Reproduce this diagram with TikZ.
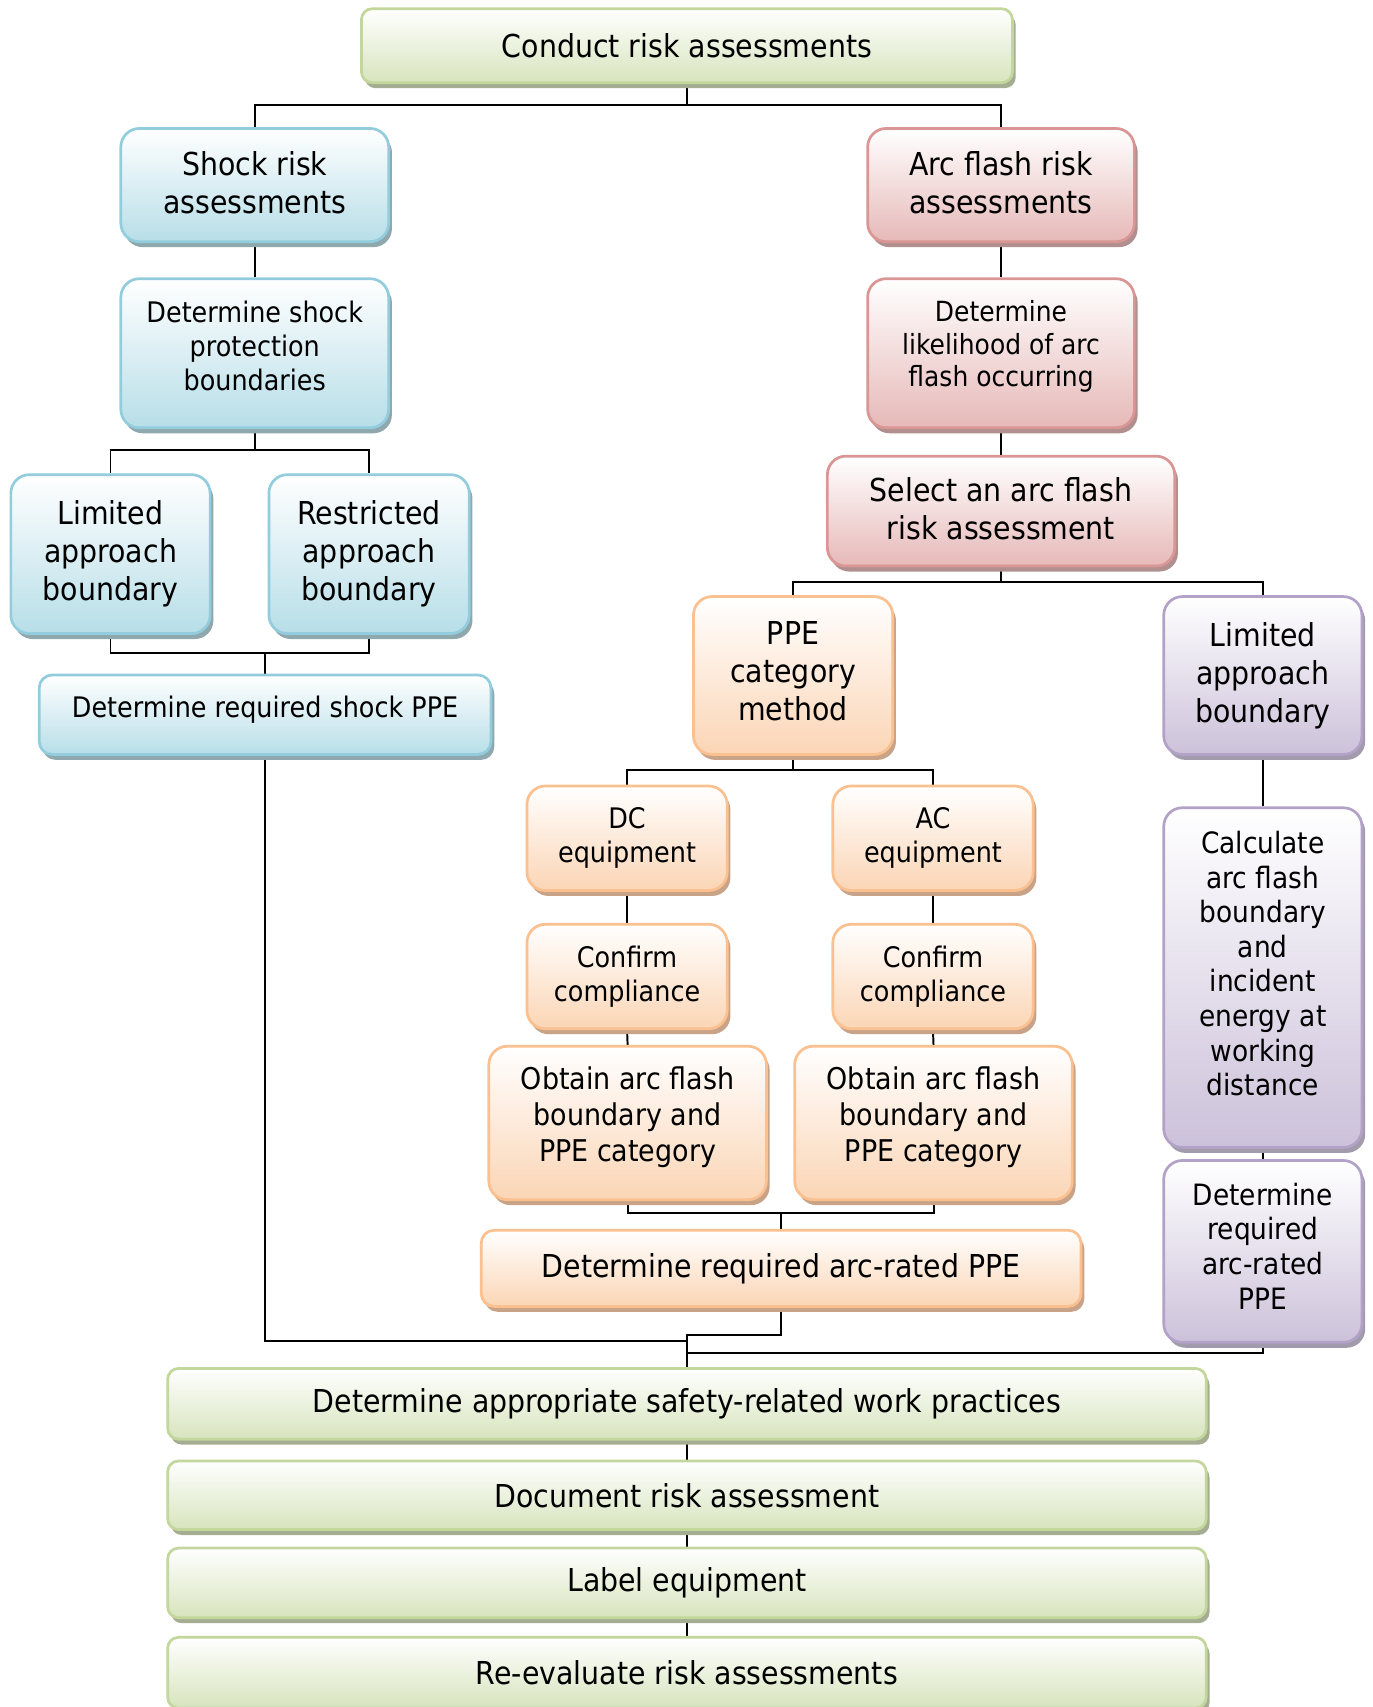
\documentclass[tikz,border=0pt]{standalone}
\usepackage{fontspec}
\setmainfont{DejaVu Sans}[FakeStretch=0.9]
\usetikzlibrary{shadows}
\pgfdeclarelayer{bg}
\pgfsetlayers{bg,main}
\definecolor{grD}{HTML}{C3D69B}\definecolor{grF}{HTML}{D7E4BD}\definecolor{grS}{HTML}{A4AD92}
\definecolor{blD}{HTML}{93CDDD}\definecolor{blF}{HTML}{B7DEE8}\definecolor{blS}{HTML}{8FA8AE}
\definecolor{rdD}{HTML}{D99694}\definecolor{rdF}{HTML}{E6B9B8}\definecolor{rdS}{HTML}{B08F8E}
\definecolor{orD}{HTML}{FAC08F}\definecolor{orF}{HTML}{FBD5B5}\definecolor{orS}{HTML}{C9A387}
\definecolor{puD}{HTML}{B3A2C7}\definecolor{puF}{HTML}{CCC1DA}\definecolor{puS}{HTML}{A19BAB}
\newcommand\mybox[7]{\node[#6, minimum width={#4-#2}, minimum height={#5-#3}] (#1) at ({(#2+#4)/2},{(#3+#5)/2}) {#7};}
\newcommand\liftup[1]{\\[\dimexpr#1pt-\baselineskip\relax]\mbox{}}
\tikzset{
  box/.style={line width=2.5pt, rounded corners=17pt, inner sep=0pt, align=center, text=black},
  mk/.style n args={3}{box, draw=#1, top color=white, bottom color=#2,
     drop shadow={shadow xshift=3pt, shadow yshift=-5pt, fill=#3, opacity=1}},
  gbox/.style={mk={grD}{grF}{grS}},
  bbox/.style={mk={blD}{blF}{blS}},
  rbox/.style={mk={rdD}{rdF}{rdS}},
  obox/.style={mk={orD}{orF}{orS}},
  pbox/.style={mk={puD}{puF}{puS}},
  fA/.style={font=\fontsize{29}{35}\selectfont},
  fB/.style={font=\fontsize{26}{31.5}\selectfont},
  fC/.style={font=\fontsize{25.5}{30}\selectfont},
  fO/.style={font=\fontsize{27.5}{33}\selectfont},
  fP/.style={font=\fontsize{27}{31.8}\selectfont},
  conn/.style={line width=1.8pt, black},
}
\begin{document}
\begin{tikzpicture}[x=1pt,y=-1pt]
\useasboundingbox (0,0) rectangle (1261,1568);
\mybox{top}{332}{8}{930}{76}{gbox,fA,rounded corners=10pt}{Conduct risk assessments}
\mybox{shock}{111}{118}{357}{222}{bbox,fA}{Shock risk\\assessments\liftup{5}}
\mybox{arc}{797}{118}{1042}{222}{rbox,fA}{Arc flash risk\\assessments\liftup{5}}
\mybox{sbound}{111}{256}{357}{393}{bbox,fB}{Determine shock\\protection\\boundaries\liftup{14}}
\mybox{likely}{797}{256}{1042}{393}{rbox,fC}{Determine\\likelihood of arc\\flash occurring\liftup{18}}
\mybox{select}{760}{419}{1079}{520}{rbox,fA}{Select an arc flash\\risk assessment\liftup{4}}
\mybox{lim}{10}{436}{193}{582}{bbox,fA}{Limited\\approach\\boundary}
\mybox{res}{247}{436}{431}{582}{bbox,fA}{Restricted\\approach\\boundary}
\mybox{sppe}{36}{620}{451}{693}{bbox,fB,rounded corners=12pt}{Determine required shock PPE\liftup{14}}
\mybox{ppecat}{637}{548}{820}{693}{obox,fA}{PPE\\category\\method\liftup{9}}
\mybox{plim}{1069}{548}{1251}{693}{pbox,fA}{Limited\\approach\\boundary}
\mybox{dc}{484}{722}{668}{818}{obox,fB}{DC\\equipment}
\mybox{ac}{765}{722}{949}{818}{obox,fB}{AC\\equipment}
\mybox{cdc}{484}{849}{668}{945}{obox,fB}{Confirm\\compliance}
\mybox{cac}{765}{849}{949}{945}{obox,fB}{Confirm\\compliance}
\mybox{odc}{449}{961}{704}{1102}{obox,fO}{Obtain arc flash\\boundary and\\PPE category\liftup{16}}
\mybox{oac}{730}{961}{985}{1102}{obox,fO}{Obtain arc flash\\boundary and\\PPE category\liftup{16}}
\mybox{arppe}{442}{1130}{993}{1200}{obox,fA,rounded corners=12pt}{Determine required arc-rated PPE}
\mybox{calc}{1069}{742}{1251}{1054}{pbox,fP}{Calculate\\arc flash\\boundary\\and\\incident\\energy at\\working\\distance\liftup{26}}
\mybox{parppe}{1069}{1066}{1251}{1233}{pbox,fP}{Determine\\required\\arc-rated\\PPE\liftup{10}}
\mybox{safety}{154}{1257}{1108}{1322}{gbox,fA,rounded corners=10pt}{Determine appropriate safety-related work practices}
\mybox{doc}{154}{1342}{1108}{1405}{gbox,fA,rounded corners=10pt}{Document risk assessment}
\mybox{label}{154}{1422}{1108}{1486}{gbox,fA,rounded corners=10pt}{Label equipment}
\mybox{reeval}{154}{1504}{1108}{1569}{gbox,fA,rounded corners=10pt}{Re-evaluate risk assessments}
\begin{pgfonlayer}{bg}
\draw[conn] (top.south) -- ++(0,19) coordinate (j1);
\draw[conn] (shock.north) |- (j1) -| (arc.north);
\draw[conn] (shock.south) -- (sbound.north);
\draw[conn] (sbound.south) -- ++(0,19) coordinate (j2);
\draw[conn] (lim.north) |- (j2) -| (res.north);
\draw[conn] (lim.south) -- ++(0,17) coordinate (j3) -| (res.south);
\draw[conn] (sppe.north) -- (sppe.north |- j3);
\draw[conn] (arc.south) -- (likely.north);
\draw[conn] (likely.south) -- (select.north);
\draw[conn] (select.south) -- ++(0,13) coordinate (j4);
\draw[conn] (ppecat.north) |- (j4) -| (plim.north);
\draw[conn] (ppecat.south) -- ++(0,13) coordinate (j5);
\draw[conn] (dc.north) |- (j5) -| (ac.north);
\draw[conn] (dc.south) -- (cdc.north);
\draw[conn] (ac.south) -- (cac.north);
\draw[conn] (cdc.south) -- (odc.north);
\draw[conn] (cac.south) -- (oac.north);
\draw[conn] (odc.south) -- ++(0,11) coordinate (j6) -| (oac.south);
\draw[conn] (arppe.north) -- (arppe.north |- j6);
\draw[conn] (plim.south) -- (calc.north);
\draw[conn] (calc.south) -- (parppe.north);
\draw[conn] (sppe.south) |- (safety.north |- 0,1232);
\draw[conn] (arppe.south) -- ++(0,25) -| (safety.north);
\draw[conn] (parppe.south) |- (safety.north |- 0,1243);
\draw[conn] (safety.south) -- (doc.north);
\draw[conn] (doc.south) -- (label.north);
\draw[conn] (label.south) -- (reeval.north);
\end{pgfonlayer}
\end{tikzpicture}
\end{document}
